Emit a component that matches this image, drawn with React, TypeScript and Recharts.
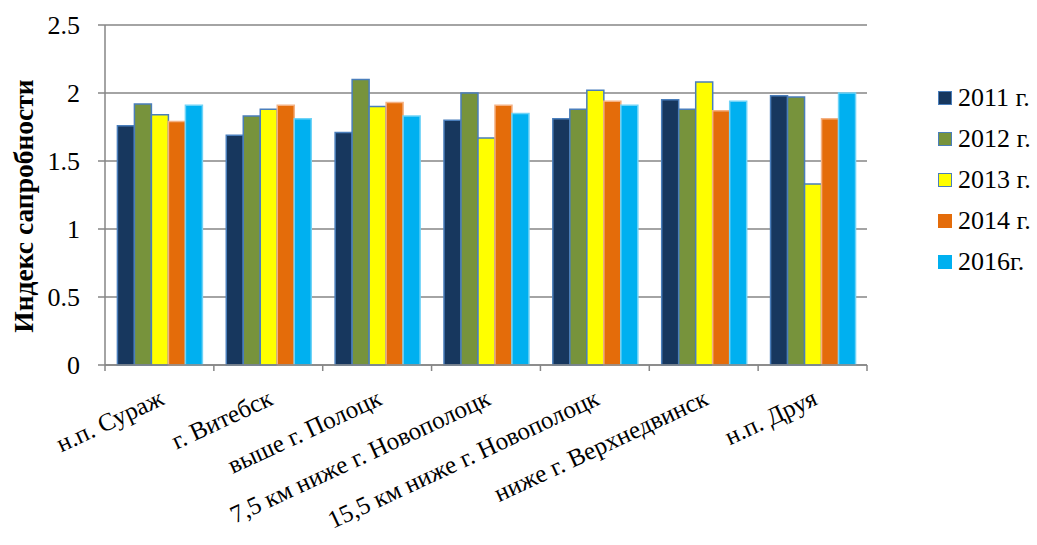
import React from 'react';
import { BarChart, Bar, XAxis, YAxis, CartesianGrid, Label } from 'recharts';

const categories = [
  'н.п. Сураж',
  'г. Витебск',
  'выше г. Полоцк',
  '7,5 км ниже г. Новополоцк',
  '15,5 км ниже г. Новополоцк',
  'ниже г. Верхнедвинск',
  'н.п. Друя',
];
const s2011 = [1.76, 1.69, 1.71, 1.8, 1.81, 1.95, 1.98];
const s2012 = [1.92, 1.83, 2.1, 2.0, 1.88, 1.88, 1.97];
const s2013 = [1.84, 1.88, 1.9, 1.67, 2.02, 2.08, 1.33];
const s2014 = [1.79, 1.91, 1.93, 1.91, 1.94, 1.87, 1.81];
const s2016 = [1.91, 1.81, 1.83, 1.85, 1.91, 1.94, 2.0];
const yTicks = [0, 0.5, 1, 1.5, 2, 2.5];

const seriesNames = ['2011 г.', '2012 г.', '2013 г.', '2014 г.', '2016г.'];
const seriesKeys = ['y2011', 'y2012', 'y2013', 'y2014', 'y2016'];
const seriesFill = ['#17375e', '#77933c', '#ffff00', '#e46c0a', '#00b0f0'];
const seriesStroke = ['#4a7ebb', '#4a7ebb', '#4a7ebb', '#f4b183', '#6fd3f7'];
const legendStroke = ['#4a7ebb', '#4a7ebb', '#4a7ebb', '#e46c0a', '#00b0f0'];

const data = categories.map((c, i) => ({
  name: c,
  y2011: s2011[i],
  y2012: s2012[i],
  y2013: s2013[i],
  y2014: s2014[i],
  y2016: s2016[i],
}));

const FONT = "'Liberation Serif', Tinos, 'DejaVu Serif', serif";
const GRID = '#868686';

const XTick = (props: any) => {
  const { x, y, payload, index } = props;
  const half = payload && payload.offset ? payload.offset : 54.43;
  return (
    <g>
      <line x1={x - half} y1={y} x2={x - half} y2={y + 6} stroke={GRID} strokeWidth={1.5} />
      {index === categories.length - 1 && (
        <line x1={x + half} y1={y} x2={x + half} y2={y + 6} stroke={GRID} strokeWidth={1.5} />
      )}
      <text
        transform={`translate(${x + 6},${y + 39}) rotate(-25)`}
        textAnchor="end"
        style={{ fontFamily: FONT }}
        fontSize={25}
        fill="#000"
      >
        {payload.value}
      </text>
    </g>
  );
};

const YLabel = (props: any) => {
  const vb = props.viewBox || {};
  const cx = 33;
  const cy = (vb.y || 25) + (vb.height || 340) / 2 + 11;
  return (
    <text
      transform={`translate(${cx},${cy}) rotate(-90)`}
      textAnchor="middle"
      style={{ fontFamily: FONT }}
      fontSize={27.5}
      fontWeight="bold"
      fill="#000"
    >
      Индекс сапробности
    </text>
  );
};

export default function App() {
  return (
    <div style={{ position: 'absolute', left: 0, top: 0, width: 1037, height: 545, background: '#fff', fontFamily: FONT }}>
      <BarChart
        width={1037}
        height={545}
        data={data}
        margin={{ top: 25, right: 170, bottom: 0, left: 0 }}
        barCategoryGap="11.4%"
        barGap={0}
        style={{ fontFamily: FONT }}
      >
        <CartesianGrid vertical={false} stroke={GRID} strokeWidth={1.5} />
        <XAxis
          dataKey="name"
          height={180}
          tickSize={0}
          tickMargin={0}
          tickLine={false}
          interval={0}
          axisLine={{ stroke: GRID, strokeWidth: 1.5 }}
          tick={<XTick />}
        />
        <YAxis
          width={105}
          domain={[0, 2.5]}
          ticks={yTicks}
          interval={0}
          tickSize={7}
          tickMargin={18}
          axisLine={{ stroke: GRID, strokeWidth: 1.5 }}
          tickLine={{ stroke: GRID, strokeWidth: 1.5 }}
          tick={{ fontFamily: FONT, fontSize: 26, fill: '#000', style: { fontFamily: FONT } }}
        >
          <Label content={<YLabel />} />
        </YAxis>
        {seriesKeys.map((k, i) => (
          <Bar
            key={k}
            dataKey={k}
            name={seriesNames[i]}
            fill={seriesFill[i]}
            stroke={seriesStroke[i]}
            strokeWidth={1.5}
            isAnimationActive={false}
          />
        ))}
      </BarChart>
      <div style={{ position: 'absolute', left: 938, top: 77, fontFamily: FONT, fontSize: 26, color: '#000' }}>
        {seriesNames.map((n, i) => (
          <div key={n} style={{ display: 'flex', alignItems: 'center', height: 41 }}>
            <div
              style={{
                width: 12,
                height: 12,
                background: seriesFill[i],
                border: `1.5px solid ${legendStroke[i]}`,
                marginRight: 6,
              }}
            />
            <span style={{ lineHeight: '41px', whiteSpace: 'nowrap' }}>{n}</span>
          </div>
        ))}
      </div>
    </div>
  );
}
